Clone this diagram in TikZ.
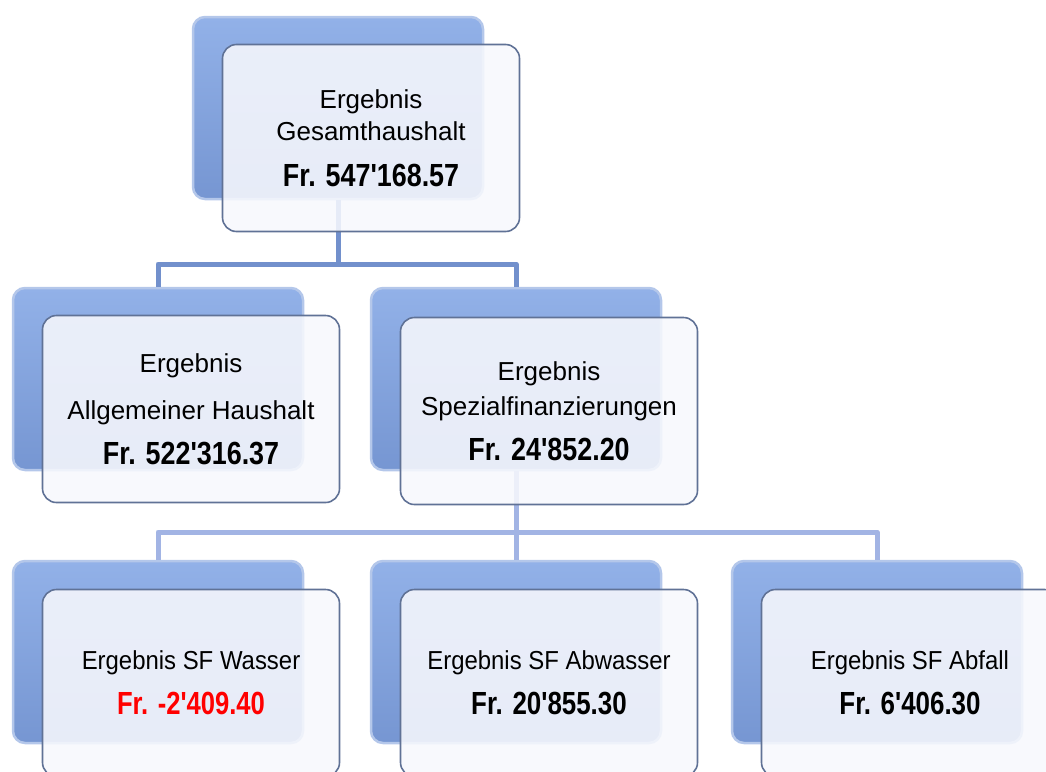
\documentclass[tikz,border=0pt]{standalone}
\usepackage{fontspec}
\usepackage{graphicx}
\setmainfont{Liberation Sans}
\usetikzlibrary{positioning}

\definecolor{backtop}{RGB}{146,177,232}
\definecolor{backbot}{RGB}{118,150,210}
\definecolor{backrim}{RGB}{180,199,234}
\definecolor{frontrim}{RGB}{96,114,150}
\definecolor{frontfill}{RGB}{247,248,253}
\definecolor{linkA}{RGB}{114,144,204}
\definecolor{linkB}{RGB}{162,180,228}
\definecolor{minus}{RGB}{255,0,0}

% bold amount, horizontally narrowed
\newcommand{\amt}[2][0.84]{{\fontsize{32}{32}\selectfont\bfseries\scalebox{#1}[1]{#2}}}
% narrowed label for the last row
\newcommand{\nlbl}[1]{\scalebox{0.92}[1]{#1}}

\tikzset{
    backbox/.style={rectangle, rounded corners=12pt, minimum width=290pt, minimum height=182pt,
        top color=backtop, bottom color=backbot, draw=backrim, line width=2.5pt},
    frontbox/.style={rectangle, rounded corners=14pt, minimum width=297pt, minimum height=187pt,
        draw=frontrim, line width=1.6pt, fill=frontfill, fill opacity=0.88, text opacity=1,
        align=center, font=\fontsize{26}{32}\selectfont},
    link/.style={line width=5pt, line join=round}
}

\begin{document}
\begin{tikzpicture}[x=1pt, y=-1pt]
    \useasboundingbox (0,0) rectangle (1046,771);
    \clip (0,0) rectangle (1046,771);

    % back boxes
    \node[backbox] (gesamt) at (338,108) {};
    \node[backbox] (allg) at (158,379) {};
    \node[backbox] (spez) at (516,379) {};
    \node[backbox] (wasser) at (158,652) {};
    \node[backbox] (abwasser) at (516,652) {};
    \node[backbox] (abfall) at (877,652) {};

    % connectors
    \coordinate (bus1) at (338,264);
    \coordinate (bus2) at (516,532);
    \draw[link, linkA] (gesamt.south) -- (bus1) -| (allg.north);
    \draw[link, linkA] (bus1) -| (spez.north);
    \draw[link, linkB] (spez.south) -- (bus2) -| (wasser.north);
    \draw[link, linkB] (bus2) -- (abwasser.north);
    \draw[link, linkB] (bus2) -| (abfall.north);

    % front boxes
    \node[frontbox] (gesamtF) at ([shift={(33,30)}]gesamt.center)
        {Ergebnis\\Gesamthaushalt\\[14pt]\amt{Fr. 547\textquotesingle168.57}};
    \node[frontbox] (allgF) at ([shift={(33,30)}]allg.center)
        {Ergebnis\\[15pt]Allgemeiner Haushalt\\[13pt]\amt{Fr. 522\textquotesingle316.37}};
    \node[frontbox] (spezF) at ([shift={(33,32)}]spez.center)
        {Ergebnis\\[3pt]Spezialfinanzierungen\\[13pt]\amt{Fr. 24\textquotesingle852.20}};
    \node[frontbox] (wasserF) at ([shift={(33,31)}]wasser.center)
        {\nlbl{Ergebnis SF Wasser}\\[13pt]\amt[0.8]{\color{minus}Fr. -2\textquotesingle409.40}};
    \node[frontbox] (abwasserF) at ([shift={(33,31)}]abwasser.center)
        {\nlbl{Ergebnis SF Abwasser}\\[13pt]\amt[0.81]{Fr. 20\textquotesingle855.30}};
    \node[frontbox] (abfallF) at ([shift={(33,31)}]abfall.center)
        {\nlbl{Ergebnis SF Abfall}\\[13pt]\amt[0.81]{Fr. 6\textquotesingle406.30}};
\end{tikzpicture}
\end{document}
